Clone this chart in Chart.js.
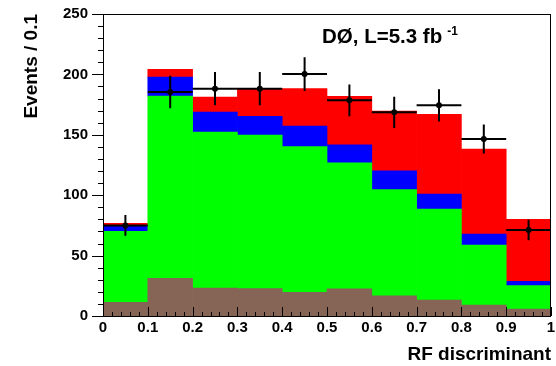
<!DOCTYPE html>
<html>
<head>
<meta charset="utf-8">
<script src="https://cdn.jsdelivr.net/npm/chart.js@4"></script>
<style>
  html, body { margin: 0; padding: 0; background: #ffffff; }
  #wrap { width: 556px; height: 366px; }
</style>
</head>
<body>
<div id="wrap"><canvas id="myChart" width="556" height="366"></canvas></div>
<script>
//--------------------- Data

// bin edges of the RF discriminant histogram
var binLo = [0, 0.1, 0.2, 0.3, 0.4, 0.5, 0.6, 0.7, 0.8, 0.9]
var binHi = [0.1, 0.2, 0.3, 0.4, 0.5, 0.6, 0.7, 0.8, 0.9, 1.0]
var binNames = ["0-0.1", "0.1-0.2", "0.2-0.3", "0.3-0.4", "0.4-0.5", "0.5-0.6", "0.6-0.7", "0.7-0.8", "0.8-0.9", "0.9-1"]

// stacked backgrounds + signal, bottom to top
var brownValues = [11.3, 31.2, 23.2, 22.6, 19.6, 22.4, 16.6, 13.2, 9.1, 5.8]
var greenValues = [58.7, 150.8, 129.1, 127.2, 120.6, 104.3, 88.0, 75.4, 49.7, 19.3]
var blueValues = [4.5, 15.8, 16.6, 15.5, 17.1, 14.9, 15.5, 12.4, 9.1, 3.6]
var redValues = [2.2, 6.4, 12.4, 22.9, 30.9, 40.3, 49.6, 66.0, 70.3, 51.3]

// data points and their errors
var dataValues = [75.0, 185.4, 188.2, 188.2, 200.3, 178.5, 168.6, 174.4, 146.5, 71.2]
var dataErrors = [8.6, 13.4, 13.7, 13.7, 14.0, 13.2, 13.0, 13.3, 12.0, 8.5]

// tick labels
var xTickLabels = ["0", "0.1", "0.2", "0.3", "0.4", "0.5", "0.6", "0.7", "0.8", "0.9", "1"]
var yTickLabels = ["0", "50", "100", "150", "200", "250"]

var fontFamily = "'Liberation Sans', Arial, Helvetica, sans-serif"

//--------------------- Build the error bar lines from the arrays

function buildPoints () {
    var hLine = [], vLine = [], marks = []
    for (var i = 0; i < dataValues.length; i++)
    {
        var centre = (binLo[i] + binHi[i]) / 2
        hLine.push({x: binLo[i], y: dataValues[i]})
        hLine.push({x: binHi[i], y: dataValues[i]})
        hLine.push({x: binHi[i], y: null})
        vLine.push({x: centre, y: dataValues[i] - dataErrors[i]})
        vLine.push({x: centre, y: dataValues[i] + dataErrors[i]})
        vLine.push({x: centre, y: null})
        marks.push({x: centre, y: dataValues[i]})
    }
    return [hLine, vLine, marks]
}

var pts = buildPoints()

//--------------------- Frame, inside/outside ticks and the label

var framePlugin = {
    id: "frame",
    afterDraw: function (chart) {
        var ctx = chart.ctx
        var area = chart.chartArea
        var xs = chart.scales.xl
        var ys = chart.scales.y
        ctx.save()
        ctx.strokeStyle = "#000000"
        ctx.lineWidth = 1
        ctx.strokeRect(area.left + 0.5, area.top + 0.5, area.right - area.left - 1, area.bottom - area.top)

        ctx.beginPath()
        // x ticks, pointing up into the plot
        for (var k = 0; k <= 50; k++)
        {
            var px = Math.round(xs.getPixelForValue(k * 0.02)) + 0.5
            var len = (k % 5 === 0) ? 9 : 4
            ctx.moveTo(px, area.bottom)
            ctx.lineTo(px, area.bottom - len)
        }
        // y ticks, pointing left out of the plot
        for (var m = 0; m <= 25; m++)
        {
            var py = Math.round(ys.getPixelForValue(m * 10)) + 0.5
            var ylen = (m % 5 === 0) ? 11 : 5
            ctx.moveTo(area.left, py)
            ctx.lineTo(area.left - ylen, py)
        }
        ctx.stroke()

        // experiment label
        ctx.fillStyle = "#000000"
        ctx.textBaseline = "alphabetic"
        ctx.textAlign = "left"
        ctx.font = "bold 20.5px " + fontFamily
        var mainText = "DØ, L=5.3 fb"
        ctx.fillText(mainText, 322, 43)
        var w = ctx.measureText(mainText).width
        ctx.font = "bold 12px " + fontFamily
        ctx.fillText("-1", 322 + w + 5, 35)
        ctx.restore()
    }
}

//--------------------- Chart

const ctx = document.getElementById("myChart")
const myChart = new Chart(ctx, {
    type: "bar",
    data: {
        labels: binNames,
        datasets: [
            {type: "line", label: "hErr", data: pts[0], xAxisID: "xl", yAxisID: "yl",
             borderColor: "#000000", borderWidth: 2, pointRadius: 0, spanGaps: false, order: 0},
            {type: "line", label: "vErr", data: pts[1], xAxisID: "xl", yAxisID: "yl",
             borderColor: "#000000", borderWidth: 2, pointRadius: 0, spanGaps: false, order: 0},
            {type: "line", label: "data", data: pts[2], xAxisID: "xl", yAxisID: "yl",
             showLine: false, pointRadius: 3, pointBackgroundColor: "#000000", pointBorderWidth: 0, order: 0},
            {label: "brown", data: brownValues, backgroundColor: "#876556", order: 1},
            {label: "green", data: greenValues, backgroundColor: "#00ff00", order: 1},
            {label: "blue", data: blueValues, backgroundColor: "#0000ff", order: 1},
            {label: "red", data: redValues, backgroundColor: "#ff0000", order: 1}
        ]
    },
    options: {
        animation: false,
        responsive: false,
        devicePixelRatio: 1,
        layout: {padding: {top: 14, right: 5, left: 0, bottom: 0}},
        datasets: {
            bar: {barPercentage: 1, categoryPercentage: 1, borderWidth: 0, grouped: false}
        },
        plugins: {
            legend: {display: false},
            tooltip: {enabled: false}
        },
        scales: {
            x: {
                type: "category",
                display: false,
                stacked: true,
                offset: true
            },
            y: {
                type: "linear",
                stacked: true,
                min: 0,
                max: 250,
                afterFit: function (scale) {
                    scale.width = 103
                    scale.paddingTop = 0
                    scale.paddingBottom = 0
                },
                grid: {display: false, drawTicks: false},
                border: {display: false},
                ticks: {
                    stepSize: 50,
                    padding: 15,
                    color: "#000000",
                    font: {family: fontFamily, size: 15, weight: "bold"},
                    callback: function (value, index) { return yTickLabels[index] }
                },
                title: {
                    display: true,
                    text: "Events / 0.1",
                    align: "end",
                    color: "#000000",
                    padding: {top: 20, bottom: 0},
                    font: {family: fontFamily, size: 19, weight: "bold"}
                }
            },
            xl: {
                type: "linear",
                position: "bottom",
                offset: false,
                min: 0,
                max: 1,
                afterFit: function (scale) {
                    scale.height = 50
                    scale.paddingLeft = 0
                    scale.paddingRight = 0
                },
                grid: {display: false, drawTicks: false, offset: false},
                border: {display: false},
                ticks: {
                    stepSize: 0.1,
                    autoSkip: false,
                    maxRotation: 0,
                    padding: 3,
                    color: "#000000",
                    font: {family: fontFamily, size: 15, weight: "bold"},
                    callback: function (value, index) { return xTickLabels[index] }
                },
                title: {
                    display: true,
                    text: "RF discriminant",
                    align: "end",
                    color: "#000000",
                    padding: 0,
                    font: {family: fontFamily, size: 19, weight: "bold"}
                }
            },
            yl: {
                type: "linear",
                display: false,
                min: 0,
                max: 250
            }
        }
    },
    plugins: [framePlugin]
});
</script>
</body>
</html>
